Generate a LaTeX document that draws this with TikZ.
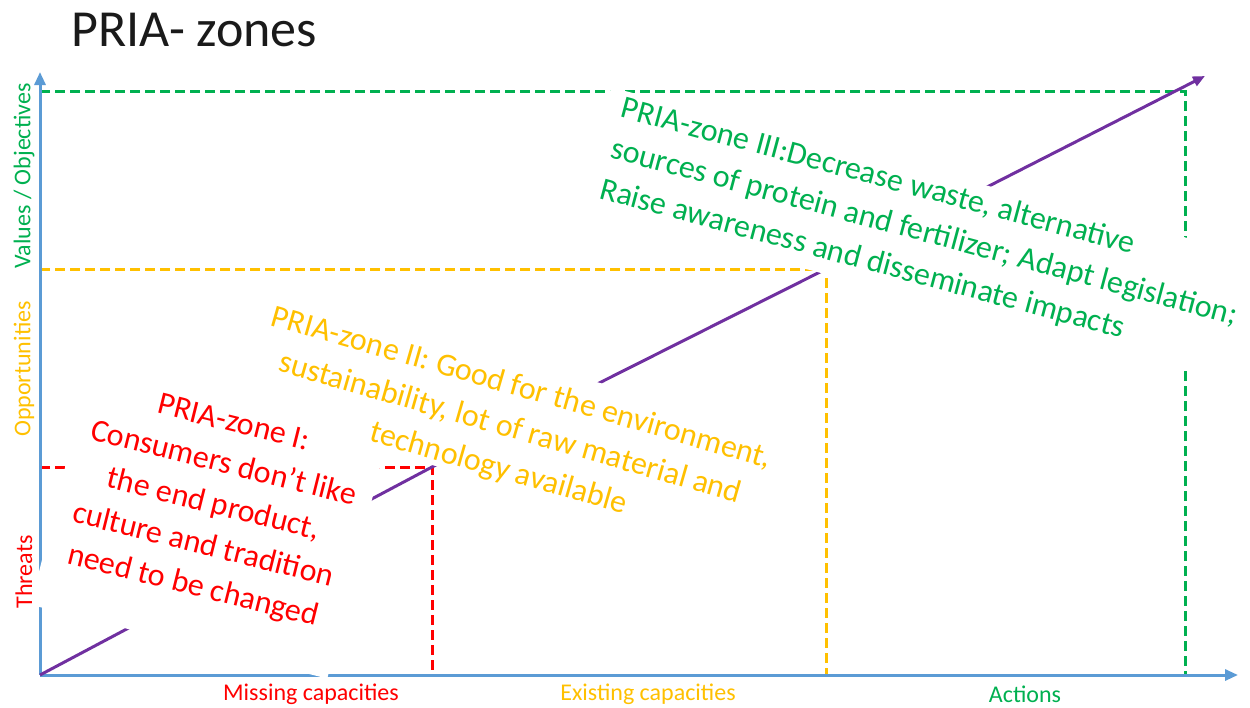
\documentclass[tikz,border=0pt]{standalone}
\usepackage{fontspec}
\setmainfont{Carlito}
\usetikzlibrary{arrows.meta}
\definecolor{axisblue}{HTML}{5B9BD5}
\definecolor{zgreen}{HTML}{00B050}
\definecolor{zorange}{HTML}{FFC000}
\definecolor{zred}{HTML}{FF0000}
\definecolor{zpurple}{HTML}{7030A0}
\definecolor{titlegray}{HTML}{1A1A1A}
\tikzset{
  axisline/.style={draw=axisblue, line width=3pt, -{Triangle[length=13pt,width=11pt]}},
  zonedash/.style={line width=3pt, dash pattern=on 10pt off 5pt},
  trend/.style={draw=zpurple, line width=3pt, line join=round},
  maskbox/.style={fill=white},
  zonetext/.style={font=\fontsize{32}{42}\selectfont, inner sep=0pt},
  axislabel/.style={font=\fontsize{24}{26}\selectfont, inner sep=0pt},
}
\begin{document}
\begin{tikzpicture}[x=1pt,y=-1pt]
\useasboundingbox (0,0) rectangle (1250,707);
\coordinate (O) at (40,675);
\coordinate (Ytip) at (40,72);
\coordinate (Xtip) at (1238,675);
\coordinate (C1) at (432,467);
\coordinate (C2) at (826,269);
\coordinate (C3) at (1185,91);
\coordinate (Ptip) at (1205,76);

% zone boundaries
\draw[zonedash, zred] (O |- C1) -- (C1) -- (C1 |- O);
\draw[zonedash, zorange] (O |- C2) -- (C2) -- (C2 |- O);
\draw[zonedash, zgreen] (O |- C3) -- (C3) -- (C3 |- O);

% axes
\draw[axisline] (O) -- (Ytip);
\draw[axisline] (O) -- (Xtip);

% trend line
\draw[trend, -{Triangle[length=12pt,width=10pt]}] (O) -- (C1) -- (C2) -- (Ptip);

% white text-box backgrounds
\fill[maskbox] (88.9,371.9) -- (385.4,445.6) -- (327.3,678.5) -- (30.8,604.8) -- cycle;
\fill[maskbox] (268.4,287.8) -- (793.7,438.6) -- (759.2,558.9) -- (233.9,408.1) -- cycle;
\fill[maskbox] (611,87.3) -- (1218,246) -- (1186,370) -- (584,210) -- cycle;

% title
\node[font=\fontsize{52}{62}\selectfont, anchor=base west, inner sep=0pt, text=titlegray] (title) at (71,46) {PRIA- zones};

% zone texts
\node[zonetext, text=zred, align=center, rotate=-14] (z1) at (213,506)
  {PRIA-zone I:\\Consumers don’t like\\the end product,\\culture and tradition\\need to be changed};
\node[zonetext, text=zorange, align=center, rotate=-16] (z2) at (510,429)
  {PRIA-zone II: Good for the environment,\\sustainability, lot of raw material and\\technology available};
\node[zonetext, text=zgreen, align=left, rotate=-15] (z3) at (924,233)
  {PRIA-zone III:Decrease waste, alternative\\sources of protein and fertilizer; Adapt legislation;\\Raise awareness and disseminate impacts};

% axis labels
\node[axislabel, text=zgreen, rotate=90] (lv) at (24,176) {Values / Objectives};
\node[axislabel, text=zorange, rotate=90] (lo) at (24,369) {Opportunities};
\node[axislabel, text=zred, rotate=90] (lt) at (24,572) {Threats};
\node[axislabel, text=zred] (lm) at (311,694) {Missing capacities};
\node[axislabel, text=zorange] (le) at (648,694) {Existing capacities};
\node[axislabel, text=zgreen] (la) at (1025,694) {Actions};
\end{tikzpicture}
\end{document}
